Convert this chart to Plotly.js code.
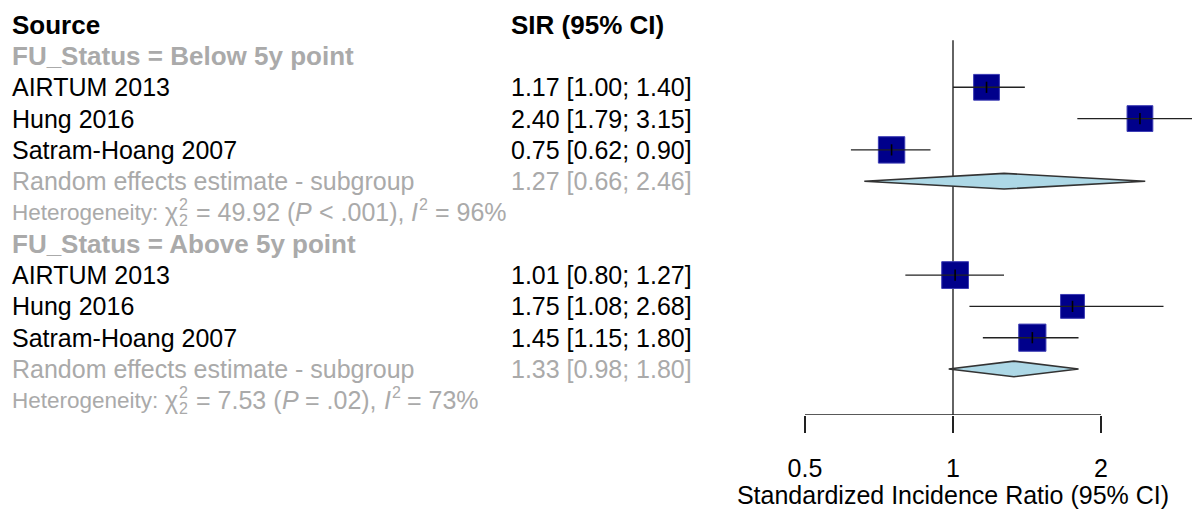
<!DOCTYPE html>
<html>
<head>
<meta charset="utf-8">
<script src="https://cdn.plot.ly/plotly-3.0.1.min.js"></script>
<style>html,body{margin:0;padding:0;background:#fff;}#chart{width:1192px;height:509px;}</style>
</head>
<body>
<div id="chart"></div>
<script>
// ---------- data ----------
const studies = ["AIRTUM 2013", "Hung 2016", "Satram-Hoang 2007"];
const groups = ["Below 5y point", "Above 5y point"];
const sirBelow = [1.17, 2.40, 0.75];
const loBelow  = [1.00, 1.79, 0.62];
const hiBelow  = [1.40, 3.15, 0.90];
const sirAbove = [1.01, 1.75, 1.45];
const loAbove  = [0.80, 1.08, 1.15];
const hiAbove  = [1.27, 2.68, 1.80];
const weightBelow = [32.8, 32.8, 34.4];
const weightAbove = [35.4, 28.1, 36.5];
const pooledSir = [1.27, 1.33];
const pooledLo  = [0.66, 0.98];
const pooledHi  = [2.46, 1.80];
const hetChi2 = ["49.92", "7.53"];
const hetDf   = ["2", "2"];
const hetP    = ["< .001", "= .02"];
const hetI2   = ["96", "73"];
const xTicks  = [0.5, 1, 2];
const xTitle  = "Standardized Incidence Ratio (95% CI)";
const colHeaders = ["Source", "SIR (95% CI)"];

// ---------- layout helpers ----------
const W = 1192, H = 509;
const FAM = "Liberation Sans";
const FONT = "Liberation Sans, Arial, sans-serif";
const FS = 25, FSB = 26, FSH = 25, FSS = 16;
const GRAY = "#aaaaaa";
const fmt = v => v.toFixed(2);
const esc = s => s.replace(/&/g, "&amp;").replace(/</g, "&lt;").replace(/>/g, "&gt;");

const ctx = document.createElement("canvas").getContext("2d");
function measure(s, size, style) {
  ctx.font = (style || "normal") + " " + size + "px '" + FAM + "'";
  return ctx.measureText(s).width;
}

const sirs = [sirBelow, sirAbove], los = [loBelow, loAbove], his = [hiBelow, hiAbove];
const wts = [weightBelow, weightAbove];

const annotations = [];
function txt(px, row, text, font, extra) {
  annotations.push(Object.assign({
    xref: "paper", yref: "y", x: px / W, y: row, xanchor: "left", yanchor: "middle",
    text: text, showarrow: false, borderpad: 0,
    font: Object.assign({family: FONT, size: FS, color: "#000"}, font || {})
  }, extra || {}));
}
const X1 = 11, X2 = 510;
txt(X1, 0, colHeaders[0], {size: FSB, weight: "bold"});
txt(X2, 0, colHeaders[1], {size: FSB, weight: "bold"});

function hetLine(row, gi) {
  const segs = [
    {t: "Heterogeneity: ", size: 22.5},
    {t: "χ", size: FSH},
    {t: hetDf[gi], size: FSS, stackSub: true, sup: "2"},
    {t: " = " + hetChi2[gi] + " (", size: FSH},
    {t: "P", size: FSH, italic: true},
    {t: " " + hetP[gi] + "), ", size: FSH},
    {t: "I", size: FSH, italic: true},
    {t: "2", size: FSS, supOnly: true},
    {t: " = " + hetI2[gi] + "%", size: FSH}
  ];
  let cur = X1;
  segs.forEach(sg => {
    const style = sg.italic ? "italic" : "normal";
    const lead = sg.t.length - sg.t.trimStart().length;
    const leadW = measure(sg.t.slice(0, lead), sg.size, style);
    const body = sg.t.trim();
    const f = {size: sg.size, color: GRAY, style: style};
    if (sg.stackSub) {
      const x0 = cur + 1.5;
      txt(x0, row, esc(sg.sup), f, {yshift: 8});
      txt(x0, row, esc(body), f, {yshift: -8});
      cur = x0 + Math.max(measure(sg.sup, sg.size), measure(body, sg.size)) + 1;
      return;
    }
    if (sg.supOnly) {
      txt(cur + 1, row, esc(body), f, {yshift: 8});
      cur += measure(body, sg.size) + 1;
      return;
    }
    txt(cur + leadW, row, esc(body), f);
    cur += measure(sg.t, sg.size, style);
  });
}

const sqX = [], sqY = [], sqS = [];
const ciX = [], ciY = [];
const dmTraces = [];
let row = 1;
groups.forEach((g, gi) => {
  txt(X1, row, "FU_Status = " + g, {size: FSB, weight: "bold", color: GRAY});
  row++;
  studies.forEach((s, si) => {
    txt(X1, row, s);
    txt(X2, row, fmt(sirs[gi][si]) + " [" + fmt(los[gi][si]) + "; " + fmt(his[gi][si]) + "]");
    sqX.push(sirs[gi][si]); sqY.push(row); sqS.push(4.5 * Math.sqrt(wts[gi][si]));
    ciX.push(los[gi][si], his[gi][si], null); ciY.push(row, row, null);
    row++;
  });
  txt(X1, row, "Random effects estimate - subgroup", {color: GRAY});
  txt(X2, row, fmt(pooledSir[gi]) + " [" + fmt(pooledLo[gi]) + "; " + fmt(pooledHi[gi]) + "]", {color: GRAY});
  const h = 0.25;
  dmTraces.push({
    type: "scatter", mode: "lines",
    x: [pooledLo[gi], pooledSir[gi], pooledHi[gi], pooledSir[gi], pooledLo[gi]],
    y: [row, row - h, row, row + h, row],
    fill: "toself", fillcolor: "#add8e6",
    line: {color: "#333333", width: 1.6}, hoverinfo: "skip", showlegend: false
  });
  row++;
  hetLine(row, gi);
  row++;
});
const axisRow = 12.47;

const traces = [
  {type: "scatter", mode: "lines", x: [1, 1], y: [0.5, axisRow],
   line: {color: "#222", width: 1.4}, hoverinfo: "skip", showlegend: false},
  {type: "scatter", mode: "lines", x: [xTicks[0], xTicks[xTicks.length - 1]], y: [axisRow, axisRow],
   line: {color: "#222", width: 1.4}, hoverinfo: "skip", showlegend: false}
].concat(dmTraces).concat([
  {type: "scatter", mode: "markers", x: sqX, y: sqY,
   marker: {symbol: "square", size: sqS, color: "#00008b", opacity: 1, line: {color: "#3c3cb4", width: 1}},
   hoverinfo: "skip", showlegend: false},
  {type: "scatter", mode: "lines", x: ciX, y: ciY, connectgaps: false,
   line: {color: "#222", width: 1.4}, hoverinfo: "skip", showlegend: false},
  {type: "scatter", mode: "markers", x: sqX, y: sqY,
   marker: {symbol: "line-ns", size: 8, opacity: 1, line: {color: "#000", width: 1.6}},
   hoverinfo: "skip", showlegend: false}
]);

const px0 = 953, pxPerDec = 491.7, half = W - px0;
const layout = {
  width: W, height: H,
  margin: {l: 0, r: 0, t: 0, b: 0, pad: 0},
  paper_bgcolor: "#fff", plot_bgcolor: "#fff",
  showlegend: false,
  xaxis: {
    type: "log", domain: [(px0 - half) / W, 1],
    range: [-half / pxPerDec, half / pxPerDec],
    showgrid: false, zeroline: false, showline: false,
    ticks: "outside", ticklen: 17, tickwidth: 1.4, tickcolor: "#222",
    ticklabelstandoff: 14,
    tickvals: xTicks, ticktext: xTicks.map(String),
    tickfont: {family: FONT, size: FS, color: "#000"},
    title: {text: xTitle, font: {family: FONT, size: FS, color: "#000"}, standoff: 4},
    fixedrange: true
  },
  yaxis: {
    domain: [(H - 415) / H, 1],
    range: [axisRow, -0.789],
    visible: false, fixedrange: true
  },
  annotations: annotations
};

Plotly.newPlot("chart", traces, layout, {displayModeBar: false, staticPlot: true});
</script>
</body>
</html>
